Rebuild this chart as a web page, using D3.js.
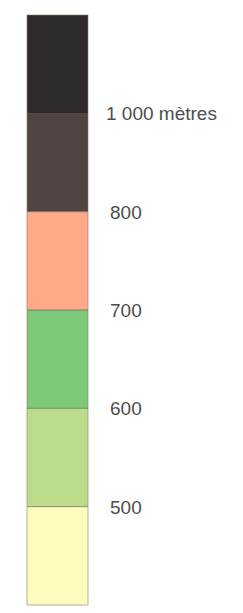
<!DOCTYPE html>
<html>
<head>
<meta charset="utf-8">
<script src="https://cdn.jsdelivr.net/npm/d3@7"></script>
<style>
  html, body { margin: 0; padding: 0; background: #fff; }
  svg { display: block; }
</style>
</head>
<body>
<div id="chart"></div>
<script>
// Altitude classes, top (highest) to bottom
const classes = ['>1000', '800-1000', '700-800', '600-700', '500-600', '<500'];
const classColors = ['#2f2a2b', '#4f4441', '#fdaa89', '#7ec87a', '#bbdd8b', '#fefcbe'];
// Labels sitting on the boundaries between classes
const boundaryLabels = ['1 000 mètres', '800', '700', '600', '500'];

const width = 243;
const height = 613;
const box = { x: 27, width: 61, top: 15, bottom: 605 };

const svg = d3.select('#chart')
    .append('svg')
    .attr('width', width)
    .attr('height', height);

const y = d3.scaleBand()
    .domain(classes)
    .range([box.top, box.bottom])
    .paddingInner(0)
    .paddingOuter(0);

svg.append('g')
    .selectAll('rect')
    .data(classes)
    .join('rect')
    .attr('x', box.x)
    .attr('y', d => y(d))
    .attr('width', box.width)
    .attr('height', y.bandwidth())
    .attr('fill', (d, i) => classColors[i]);

// thin dark separators between classes
svg.append('g')
    .selectAll('line')
    .data(classes.slice(1))
    .join('line')
    .attr('x1', box.x)
    .attr('x2', box.x + box.width)
    .attr('y1', d => y(d))
    .attr('y2', d => y(d))
    .attr('stroke', (d, i) => i < 1 ? '#3a3230' : '#5c6a48')
    .attr('stroke-opacity', 0.7)
    .attr('stroke-width', 1);

// outline
svg.append('rect')
    .attr('x', box.x)
    .attr('y', box.top)
    .attr('width', box.width)
    .attr('height', box.bottom - box.top)
    .attr('fill', 'none')
    .attr('stroke', '#8a8060')
    .attr('stroke-opacity', 0.6)
    .attr('stroke-width', 1);

svg.append('g')
    .selectAll('text')
    .data(boundaryLabels)
    .join('text')
    .attr('x', (d, i) => i === 0 ? 106 : 110)
    .attr('y', (d, i) => y(classes[i + 1]))
    .attr('dy', '0.36em')
    .attr('font-family', 'Liberation Sans, Arial, sans-serif')
    .attr('font-size', '19px')
    .attr('fill', '#4d4d4d')
    .text(d => d);
</script>
</body>
</html>
